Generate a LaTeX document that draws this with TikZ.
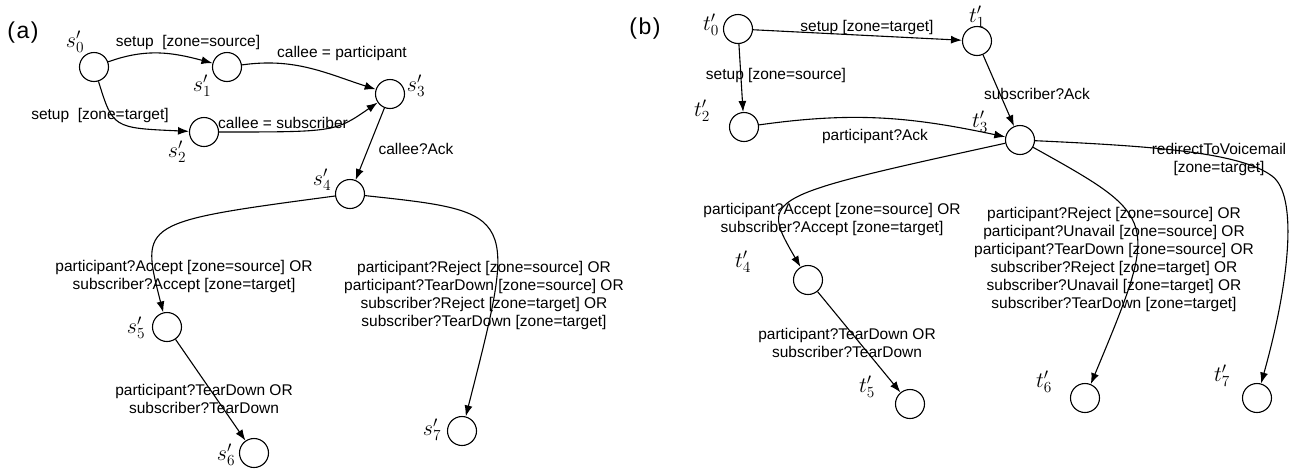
\RequirePackage{fix-cm}
\documentclass[tikz,border=0pt]{standalone}
\usepackage{fontspec}
\usetikzlibrary{arrows.meta}
\newfontfamily\arialish{Liberation Sans}
\newcommand\edgefont{\arialish\fontsize{15.5}{18}\selectfont}
\newcommand\statefont{\fontsize{22}{26}\selectfont}
\newcommand\panelfont{\arialish\fontsize{23}{26}\selectfont}

\tikzset{
  state/.style={circle, draw, line width=1.1pt, minimum size=29pt, inner sep=0pt},
  trans/.style={-{Latex[length=11pt,width=8pt]}, line width=1.1pt},
  edgelbl/.style={font=\edgefont, align=center, inner sep=0pt},
  sname/.style={font=\statefont, inner sep=0pt},
  panel/.style={font=\panelfont, inner sep=0pt},
}

\begin{document}
\begin{tikzpicture}[x=1pt, y=-1pt]
\useasboundingbox (0,0) rectangle (1296,472);

% ---------------- panel (a) ----------------
\node[panel] (pa) at (23,33) {(\kern1.5pt a\kern1.5pt)};

\node[state] (s0) at (94,67) {};
\node[state] (s1) at (227,67) {};
\node[state] (s2) at (204,132) {};
\node[state] (s3) at (390,94) {};
\node[state] (s4) at (350,194) {};
\node[state] (s5) at (167,327) {};
\node[state] (s6) at (254,453) {};
\node[state] (s7) at (462,431) {};

\node[sname] (ns0) at (75,42)  {$s'_0$};
\node[sname] (ns1) at (202,86) {$s'_1$};
\node[sname] (ns2) at (177,152) {$s'_2$};
\node[sname] (ns3) at (416,86) {$s'_3$};
\node[sname] (ns4) at (322,180) {$s'_4$};
\node[sname] (ns5) at (136,328) {$s'_5$};
\node[sname] (ns6) at (226,455) {$s'_6$};
\node[sname] (ns7) at (432,430) {$s'_7$};

\draw[trans] (s0) to[out=20,in=165] (s1);
\draw[trans] (s1) to[out=8,in=162] (s3);
\draw[trans] (s0) .. controls (113,128) .. (s2);
\draw[trans] (s2) .. controls (335,132) .. (s3);
\draw[trans] (s3) -- (s4);
\draw[trans] (s4) .. controls (140,222) .. (s5);
\draw[trans] (s4) .. controls (518,212) .. (s7);
\draw[trans] (s5) -- (s6);

\node[edgelbl] (la1) at (188,42)  {setup\ \ [zone=source]};
\node[edgelbl] (la2) at (342,53)  {callee = participant};
\node[edgelbl] (la3) at (100,115) {setup\ \ [zone=target]};
\node[edgelbl] (la4) at (283,123) {callee = subscriber};
\node[edgelbl] (la5) at (416,149) {callee?Ack};
\node[edgelbl] (la6) at (184,276) {participant?Accept [zone=source] OR\\subscriber?Accept [zone=target]};
\node[edgelbl] (la7) at (484,295) {participant?Reject [zone=source] OR\\participant?TearDown [zone=source] OR\\subscriber?Reject [zone=target] OR\\subscriber?TearDown [zone=target]};
\node[edgelbl] (la8) at (204,399) {participant?TearDown OR\\subscriber?TearDown};

% ---------------- panel (b) ----------------
\node[panel] (pb) at (645,29) {(\kern1.5pt b\kern1.5pt)};

\node[state] (t0) at (738,29) {};
\node[state] (t1) at (977,41) {};
\node[state] (t2) at (744,127) {};
\node[state] (t3) at (1020,140) {};
\node[state] (t4) at (808,280) {};
\node[state] (t5) at (910,404) {};
\node[state] (t6) at (1085,398) {};
\node[state] (t7) at (1257,398) {};

\node[sname] (nt0) at (711,25)  {$t'_0$};
\node[sname] (nt1) at (977,17)  {$t'_1$};
\node[sname] (nt2) at (702,111) {$t'_2$};
\node[sname] (nt3) at (980,122) {$t'_3$};
\node[sname] (nt4) at (743,262) {$t'_4$};
\node[sname] (nt5) at (867,387) {$t'_5$};
\node[sname] (nt6) at (1044,382) {$t'_6$};
\node[sname] (nt7) at (1222,376) {$t'_7$};

\draw[trans] (t0) -- (t1);
\draw[trans] (t0) -- (t2);
\draw[trans] (t1) -- (t3);
\draw[trans] (t2) to[out=8,in=168] (t3);
\draw[trans] (t3) .. controls (760,197) .. (t4);
\draw[trans] (t3) .. controls (1160,218) .. (t6);
\draw[trans] (t3) .. controls (1150,146) and (1240,152) .. (1272,176)
                  .. controls (1298,195) and (1290,280) .. (t7);
\draw[trans] (t4) -- (t5);

\node[edgelbl] (lb1) at (867,27)  {setup [zone=target]};
\node[edgelbl] (lb2) at (776,75)  {setup [zone=source]};
\node[edgelbl] (lb3) at (1037,94) {subscriber?Ack};
\node[edgelbl] (lb4) at (875,136) {participant?Ack};
\node[edgelbl] (lb5) at (1219,159) {redirectToVoicemail\\{[zone=target]}};
\node[edgelbl] (lb6) at (832,219) {participant?Accept [zone=source] OR\\subscriber?Accept [zone=target]};
\node[edgelbl] (lb7) at (847,343) {participant?TearDown OR\\subscriber?TearDown};
\node[edgelbl] (lb8) at (1114,259) {participant?Reject [zone=source] OR\\participant?Unavail [zone=source] OR\\participant?TearDown [zone=source] OR\\subscriber?Reject [zone=target] OR\\subscriber?Unavail [zone=target] OR\\subscriber?TearDown [zone=target]};
\end{tikzpicture}
\end{document}
